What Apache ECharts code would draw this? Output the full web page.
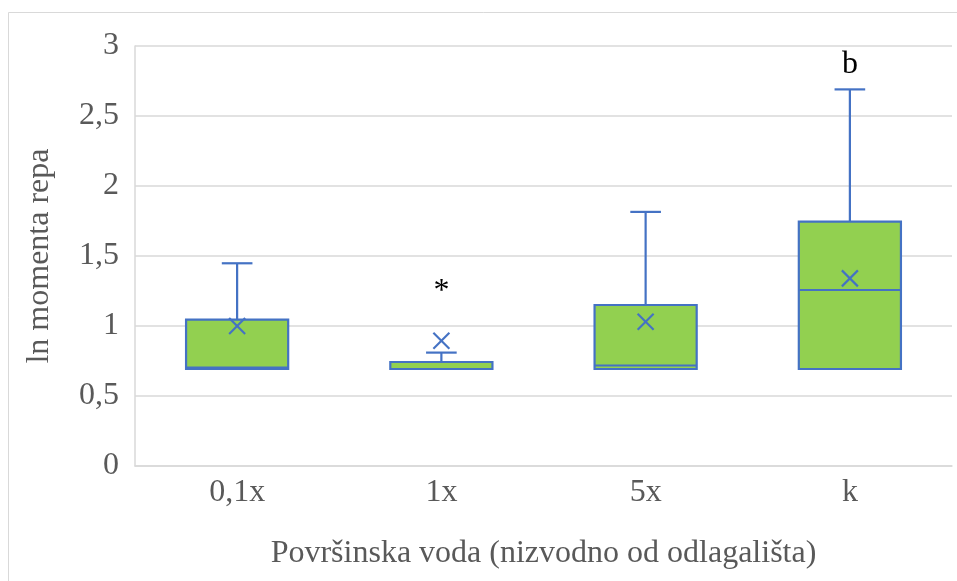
<!DOCTYPE html>
<html>
<head>
<meta charset="utf-8">
<script src="https://cdn.jsdelivr.net/npm/echarts@6/dist/echarts.min.js"></script>
<style>html,body{margin:0;padding:0;background:#fff}#c{width:957px;height:581px}</style>
</head>
<body>
<div id="c"></div>
<script>
var categories = ['0,1x', '1x', '5x', 'k'];
var mins    = [0.693, 0.693, 0.693, 0.693];
var q1s     = [0.693, 0.693, 0.693, 0.693];
var medians = [0.702, 0.693, 0.718, 1.257];
var q3s     = [1.045, 0.743, 1.150, 1.745];
var maxs    = [1.448, 0.810, 1.815, 2.690];
var means   = [1.000, 0.895, 1.031, 1.340];
var annotText = ['', '*', '', 'b'];
var annotY    = [null, 1.245, null, 2.864];
var yTicks = [0, 0.5, 1, 1.5, 2, 2.5, 3];

var rows = categories.map(function (c, i) {
  return [i, mins[i], q1s[i], medians[i], q3s[i], maxs[i], means[i], annotY[i] == null ? 0 : annotY[i]];
});

var BLUE = '#4472c4', GREEN = '#92d050', FONT = 'Liberation Serif', FS = 32;

function renderItem(params, api) {
  var i = api.value(0);
  var band = api.size([1, 0])[0];
  var bw = band * 0.5, cw = band * 0.15;
  var pMin = api.coord([i, api.value(1)]);
  var pQ1 = api.coord([i, api.value(2)]);
  var pMed = api.coord([i, api.value(3)]);
  var pQ3 = api.coord([i, api.value(4)]);
  var pMax = api.coord([i, api.value(5)]);
  var pMean = api.coord([i, api.value(6)]);
  var x = pQ1[0];
  var ls = {stroke: BLUE, lineWidth: 2.2};
  var ch = [
    {type: 'line', shape: {x1: x, y1: pQ3[1], x2: x, y2: pMax[1]}, style: ls},
    {type: 'line', shape: {x1: x - cw / 2, y1: pMax[1], x2: x + cw / 2, y2: pMax[1]}, style: ls},
    {type: 'line', shape: {x1: x, y1: pQ1[1], x2: x, y2: pMin[1]}, style: ls},
    {type: 'rect', shape: {x: x - bw / 2, y: pQ3[1], width: bw, height: pQ1[1] - pQ3[1]},
      style: {fill: GREEN, stroke: BLUE, lineWidth: 2.2}},
    {type: 'line', shape: {x1: x - bw / 2, y1: pMed[1], x2: x + bw / 2, y2: pMed[1]}, style: ls},
    {type: 'line', shape: {x1: pMean[0] - 8, y1: pMean[1] - 8, x2: pMean[0] + 8, y2: pMean[1] + 8}, style: ls},
    {type: 'line', shape: {x1: pMean[0] - 8, y1: pMean[1] + 8, x2: pMean[0] + 8, y2: pMean[1] - 8}, style: ls}
  ];
  var t = annotText[i];
  if (t) {
    var pA = api.coord([i, annotY[i]]);
    ch.push({type: 'text', x: pA[0], y: pA[1],
      style: {text: t, fill: '#000', font: FS + 'px "' + FONT + '"', align: 'center', verticalAlign: 'middle'}});
  }
  return {type: 'group', children: ch};
}

var chart = echarts.init(document.getElementById('c'), null, {renderer: 'canvas'});
chart.setOption({
  animation: false,
  backgroundColor: '#fff',
  textStyle: {fontFamily: FONT},
  graphic: [{type: 'rect', shape: {x: 8.5, y: 12.5, width: 1000, height: 1000},
    style: {fill: 'none', stroke: '#d9d9d9', lineWidth: 1}, silent: true, z: -1}],
  grid: {left: 135, right: 5, top: 46, bottom: 115},
  xAxis: {
    type: 'category', data: categories,
    name: 'Površinska voda (nizvodno od odlagališta)', nameLocation: 'middle', nameGap: 72,
    nameTextStyle: {fontSize: FS, color: '#595959', fontFamily: FONT},
    axisLine: {lineStyle: {color: '#d9d9d9', width: 1.5}},
    axisTick: {show: false},
    axisLabel: {fontSize: FS, color: '#595959', margin: 11, fontFamily: FONT},
    splitLine: {show: false}
  },
  yAxis: {
    type: 'value', min: 0, max: 3, interval: 0.5,
    name: 'ln momenta repa', nameLocation: 'middle', nameGap: 79,
    nameTextStyle: {fontSize: FS, color: '#595959', fontFamily: FONT},
    axisLine: {show: true, lineStyle: {color: '#d9d9d9', width: 1.5}},
    axisTick: {show: false},
    axisLabel: {fontSize: FS, color: '#595959', margin: 16, fontFamily: FONT,
      formatter: function (v) { return String(v).replace('.', ','); }},
    splitLine: {lineStyle: {color: '#d9d9d9', width: 1.5}}
  },
  series: [{
    type: 'custom', renderItem: renderItem, data: rows,
    encode: {x: 0, y: [1, 2, 3, 4, 5, 6, 7]}
  }]
});
</script>
</body>
</html>
